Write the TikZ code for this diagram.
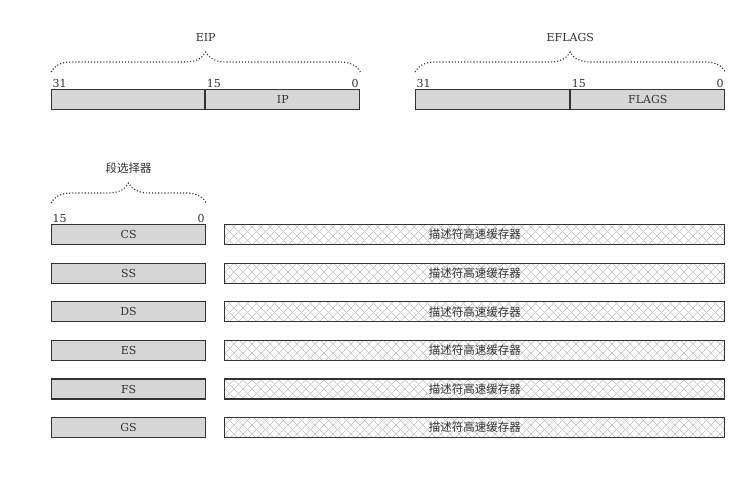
\documentclass[tikz,border=0pt]{standalone}
\usepackage{fontspec}
\setmainfont{DejaVu Serif}
\newfontfamily\cjk{Noto Sans CJK SC}
\usetikzlibrary{positioning,patterns.meta,decorations.pathreplacing}

\tikzdeclarepattern{
  name=cachehatch,
  type=uncolored,
  bounding box={(-4.5pt,-4.5pt) and (4.5pt,4.5pt)},
  tile size={(9pt,9pt)},
  code={
    \draw[line width=0.5pt] (-4.5pt,-4.5pt) -- (4.5pt,4.5pt);
    \draw[line width=0.5pt] (-4.5pt,4.5pt) -- (4.5pt,-4.5pt);
  }
}

\begin{document}
\begin{tikzpicture}
            [
            x=1pt, y=-1pt,
            reg/.style={rectangle, draw=black!80, line width=1.2pt, fill=gray!32,
                minimum height=20pt, inner sep=0pt, text=black!80,
                font=\fontsize{11}{13}\selectfont},
            cache/.style={reg, fill=none, pattern={cachehatch}, pattern color=gray!50,
                minimum width=500pt, font=\cjk\fontsize{11.5}{13}\selectfont},
            bit/.style={inner sep=1.5pt, text=black!80, font=\fontsize{11}{13}\selectfont},
            dotbrace/.style={draw=black!80, line width=1.1pt, dotted,
                decorate, decoration={brace, amplitude=20pt}},
            title/.style={midway, yshift=31pt, anchor=base, text=black!80,
                font=\fontsize{11}{13}\selectfont}
            ]
            \useasboundingbox (0,0) rectangle (752,479);

            % EIP
            \node (eiphi) [reg, minimum width=153pt, anchor=north west] at (51,89) {};
            \node (eiplo) [reg, minimum width=154pt, right=0pt of eiphi] {IP};
            \node [bit, anchor=south west] at (eiphi.north west) {31};
            \node [bit, anchor=south west] at (eiplo.north west) {15};
            \node [bit, anchor=south east] at (eiplo.north east) {0};
            \draw [dotbrace] ([yshift=17pt]eiphi.north west) -- ([yshift=17pt]eiplo.north east)
                node [title] {EIP};

            % EFLAGS
            \node (flghi) [reg, minimum width=154pt, anchor=north west] at (415,89) {};
            \node (flglo) [reg, minimum width=154pt, right=0pt of flghi] {FLAGS};
            \node [bit, anchor=south west] at (flghi.north west) {31};
            \node [bit, anchor=south west] at (flglo.north west) {15};
            \node [bit, anchor=south east] at (flglo.north east) {0};
            \draw [dotbrace] ([yshift=17pt]flghi.north west) -- ([yshift=17pt]flglo.north east)
                node [title] {EFLAGS};

            % Segment registers
            \foreach \s [count=\i from 0] in {CS,SS,DS,ES,FS,GS}
            {
            \node (sel\s) [reg, minimum width=154pt, anchor=north west] at (51,224+38.6*\i) {\s};
            \node (desc\s) [cache, right=18pt of sel\s] {描述符高速缓存器};
            }
            \node [bit, anchor=south west] at (selCS.north west) {15};
            \node [bit, anchor=south east] at (selCS.north east) {0};
            \draw [dotbrace] ([yshift=21pt]selCS.north west) -- ([yshift=21pt]selCS.north east)
                node [title, font=\cjk\fontsize{11.5}{13}\selectfont] {段选择器};
        \end{tikzpicture}
\end{document}
